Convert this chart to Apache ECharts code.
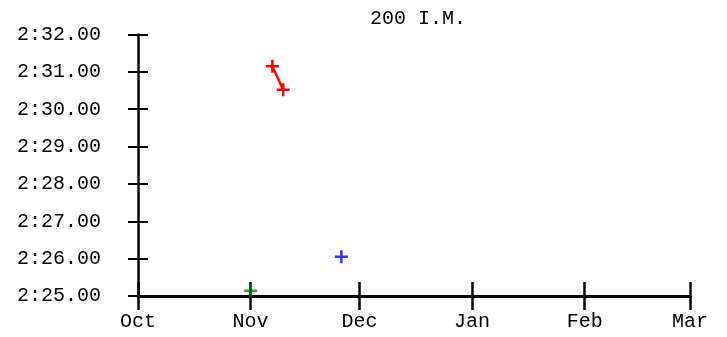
<!DOCTYPE html>
<html>
<head>
<meta charset="utf-8">
<script src="https://cdn.jsdelivr.net/npm/echarts@6/dist/echarts.min.js"></script>
<style>html,body{margin:0;padding:0;background:#fff;}#c{width:727px;height:337px;}</style>
</head>
<body>
<div id="c"></div>
<script>
var title = '200 I.M.';
var monthTicks = ['2023-10-01', '2023-11-01', '2023-12-01', '2024-01-01', '2024-02-01', '2024-03-01'];
var monthNames = ['Oct', 'Nov', 'Dec', 'Jan', 'Feb', 'Mar'];
var yTicks = [145, 146, 147, 148, 149, 150, 151, 152]; // seconds
var redDates = ['2023-11-07', '2023-11-10'];
var redTimes = [151.15, 150.52];
var blueDates = ['2023-11-26'];
var blueTimes = [146.05];
var greenDates = ['2023-11-01'];
var greenTimes = [145.14];

function ts(s) { var p = s.split('-'); return Date.UTC(+p[0], +p[1] - 1, +p[2]); }
var tickTs = monthTicks.map(ts);
function fmtTime(v) {
  var m = Math.floor(v / 60), s = v - m * 60;
  var ss = s.toFixed(2); if (s < 10) ss = '0' + ss;
  return m + ':' + ss;
}
function pairs(d, t) { return d.map(function (x, i) { return [ts(x), t[i]]; }); }
var plus = 'path://M0,5.25H13V7.75H0Z M5.25,0H7.75V13H5.25Z';
var font = 'Courier New, Liberation Mono, monospace';

var chart = echarts.init(document.getElementById('c'), null, { renderer: 'canvas' });
function xAxisDef(main) {
  return {
    type: 'value', min: tickTs[0], max: tickTs[tickTs.length - 1], position: 'bottom', gridIndex: 0,
    splitLine: { show: false },
    axisLine: { show: main, lineStyle: { color: '#000', width: 3 } },
    axisTick: { show: true, inside: !main, length: 14, lineStyle: { color: '#000', width: 2.5 }, customValues: tickTs },
    axisLabel: { show: main, margin: 16, fontFamily: font, fontSize: 20, color: '#000', customValues: tickTs,
      formatter: function (v) { var i = tickTs.indexOf(v); return i >= 0 ? monthNames[i] : ''; } }
  };
}
function yAxisDef(main) {
  return {
    type: 'value', min: yTicks[0], max: yTicks[yTicks.length - 1], interval: 1, position: 'left', offset: 0,
    axisLine: { show: main, lineStyle: { color: '#000', width: 2.5 } },
    axisTick: { show: true, inside: !main, length: 10, lineStyle: { color: '#000', width: 2 } },
    axisLabel: { show: main, margin: 37, fontFamily: font, fontSize: 20, color: '#000', formatter: fmtTime },
    splitLine: { show: false }
  };
}
chart.setOption({
  animation: false,
  backgroundColor: '#fff',
  title: { text: title, left: 365, top: 4, textStyle: { fontFamily: font, fontSize: 20, fontWeight: 'normal', color: '#000' } },
  grid: { left: 138, right: 37, top: 34.5, bottom: 41, containLabel: false },
  xAxis: [xAxisDef(true), xAxisDef(false)],
  yAxis: [yAxisDef(true), yAxisDef(false)],
  series: [
    { type: 'line', data: pairs(redDates, redTimes), symbol: plus, symbolSize: 13, clip: false,
      itemStyle: { color: '#ff0000' }, lineStyle: { color: '#ff0000', width: 2.5 }, z: 5 },
    { type: 'scatter', data: pairs(blueDates, blueTimes), symbol: plus, symbolSize: 13, clip: false,
      itemStyle: { color: '#0000ff' }, z: 5 },
    { type: 'scatter', data: pairs(greenDates, greenTimes), symbol: plus, symbolSize: 13, clip: false,
      itemStyle: { color: '#008000' }, z: 5 }
  ]
});
</script>
</body>
</html>
